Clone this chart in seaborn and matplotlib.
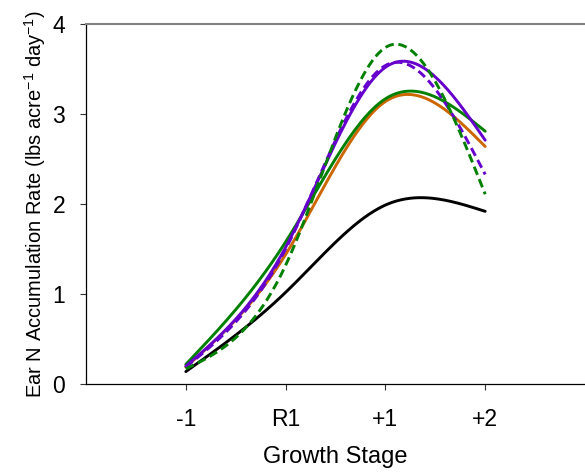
import numpy as np
import pandas as pd
import matplotlib
matplotlib.use('Agg')
import matplotlib.pyplot as plt
import seaborn as sns

# growth stages (x positions 1..4)
stages = ['-1', 'R1', '+1', '+2']
stage_pos = [1, 2, 3, 4]

# ear N accumulation rate, lbs acre-1 day-1
black_solid = [0.14, 1.02, 1.99, 1.92]
green_solid = [0.22, 1.58, 3.17, 2.81]
orange_solid = [0.19, 1.44, 3.14, 2.64]
purple_solid = [0.20, 1.52, 3.52, 2.71]
purple_dash = [0.19, 1.50, 3.54, 2.33]
green_dash = [0.17, 1.32, 3.74, 2.11]


def natural_spline(x, y, n=200):
    # natural cubic spline, only used to draw a smooth line through the points
    x = np.asarray(x, float)
    y = np.asarray(y, float)
    k = len(x)
    h = np.diff(x)
    A = np.zeros((k, k))
    b = np.zeros(k)
    A[0, 0] = A[-1, -1] = 1.0
    for i in range(1, k - 1):
        A[i, i - 1] = h[i - 1]
        A[i, i] = 2 * (h[i - 1] + h[i])
        A[i, i + 1] = h[i]
        b[i] = 6 * ((y[i + 1] - y[i]) / h[i] - (y[i] - y[i - 1]) / h[i - 1])
    M = np.linalg.solve(A, b)
    xs = np.linspace(x[0], x[-1], n)
    idx = np.clip(np.searchsorted(x, xs) - 1, 0, k - 2)
    x0, x1 = x[idx], x[idx + 1]
    hh = x1 - x0
    ys = (M[idx] * (x1 - xs) ** 3 / (6 * hh) + M[idx + 1] * (xs - x0) ** 3 / (6 * hh)
          + (y[idx] / hh - M[idx] * hh / 6) * (x1 - xs)
          + (y[idx + 1] / hh - M[idx + 1] * hh / 6) * (xs - x0))
    return xs, ys


series = [
    (black_solid, '#000000', None),
    (orange_solid, '#CC6600', None),
    (green_solid, '#008000', None),
    (purple_solid, '#6600CC', None),
    (purple_dash, '#6600CC', (3.0, 1.6)),
    (green_dash, '#008000', (3.0, 1.6)),
]

sns.set_theme(style='white')
plt.rcParams['font.family'] = ['Liberation Sans', 'DejaVu Sans']
plt.rcParams['mathtext.fontset'] = 'custom'
plt.rcParams['mathtext.rm'] = 'Liberation Sans'
plt.rcParams['mathtext.it'] = 'Liberation Sans'

fig = plt.figure(figsize=(5.85, 4.72), dpi=100)
ax = fig.add_axes([0.147, 0.186, 0.853, 0.763])

for vals, col, dash in series:
    xs, ys = natural_spline(stage_pos, vals)
    df = pd.DataFrame({'x': xs, 'y': ys})
    sns.lineplot(data=df, x='x', y='y', ax=ax, color=col, lw=2.1,
                 sort=False, estimator=None)
    if dash is not None:
        ax.lines[-1].set_dashes(dash)

ax.set_xlim(0, 5)
ax.set_ylim(0, 4)
ax.set_xticks(stage_pos)
ax.set_xticklabels(stages)
ax.set_yticks([0, 1, 2, 3, 4])
ax.tick_params(axis='both', which='major', labelsize=16.5, direction='out',
               length=4, width=0.8, color='#333333', bottom=True, left=True,
               labelcolor='black')
ax.tick_params(axis='x', pad=13)
ax.tick_params(axis='y', pad=11)

for s in ['left', 'bottom']:
    ax.spines[s].set_color('black')
    ax.spines[s].set_linewidth(0.9)
ax.spines['top'].set_color('#808080')
ax.spines['top'].set_linewidth(1.5)
ax.spines['right'].set_visible(False)

ax.set_xlabel('Growth Stage', fontsize=17, labelpad=11, color='black')
ax.set_ylabel('Ear N Accumulation Rate (lbs acre$^{-1}$ day$^{-1}$)', fontsize=14.5,
              labelpad=3, color='black')

fig.savefig('out.png', dpi=100)
